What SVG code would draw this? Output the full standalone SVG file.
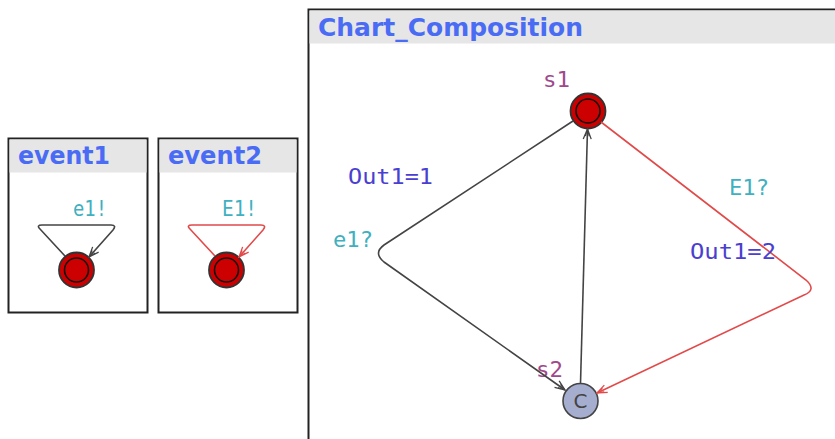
<svg xmlns="http://www.w3.org/2000/svg" width="835" height="439" viewBox="0 0 835 439">
<style>
.box{fill:#fff;stroke:#222;stroke-width:2}
.hdr{fill:#e6e6e6}
.title{font-family:"DejaVu Sans",sans-serif;font-weight:bold;font-size:24px;fill:#4a6cf5}
.lbl{font-family:"DejaVu Sans Mono",monospace;font-size:21px}
.sync{fill:#3fb0bf}
.asg{fill:#4a3fd0}
.name{fill:#a0488c}
.e{fill:none;stroke:#444;stroke-width:1.6}
.r{fill:none;stroke:#e24a4a;stroke-width:1.6}
.st{fill:#cc0000;stroke:#333;stroke-width:1.8}
.in{fill:none;stroke:#111;stroke-width:1.6}
.cst{fill:#a6aed0;stroke:#444;stroke-width:1.6}
</style>
<defs>
<marker id="ak" viewBox="0 0 12 10" refX="11" refY="5" markerWidth="12" markerHeight="10" markerUnits="userSpaceOnUse" orient="auto">
<path d="M1,1 L11,5 L1,9 M4,3 L11,5 L4,7" fill="none" stroke="#444" stroke-width="1.3"/>
</marker>
<marker id="ar" viewBox="0 0 12 10" refX="11" refY="5" markerWidth="12" markerHeight="10" markerUnits="userSpaceOnUse" orient="auto">
<path d="M1,1 L11,5 L1,9 M4,3 L11,5 L4,7" fill="none" stroke="#e24a4a" stroke-width="1.3"/>
</marker>
</defs>
<rect width="835" height="439" fill="#fff"/>

<g id="event1">
<rect class="box" x="8.5" y="138.5" width="139" height="174"/>
<rect class="hdr" x="9.5" y="139.5" width="137" height="33"/>
<text class="title" x="18" y="164" textLength="92" lengthAdjust="spacingAndGlyphs">event1</text>
<circle class="st" cx="76.5" cy="270" r="17.5"/>
<circle class="in" cx="76.5" cy="270" r="12"/>
</g>
<g id="event2">
<rect class="box" x="158.5" y="138.5" width="139" height="174"/>
<rect class="hdr" x="159.5" y="139.5" width="137" height="33"/>
<text class="title" x="168" y="164" textLength="94" lengthAdjust="spacingAndGlyphs">event2</text>
<circle class="st" cx="226.5" cy="270" r="17.5"/>
<circle class="in" cx="226.5" cy="270" r="12"/>
</g>
<g id="Chart_Composition">
<rect class="box" x="308.5" y="9.5" width="600" height="500"/>
<rect class="hdr" x="309.5" y="10.5" width="598" height="33"/>
<text class="title" x="318" y="36" textLength="265" lengthAdjust="spacingAndGlyphs">Chart_Composition</text>
</g>
<g id="s1">
<circle class="st" cx="588" cy="111" r="17.5"/>
<circle class="in" cx="588" cy="111" r="12"/>
<text class="lbl name" x="543" y="87" textLength="27" lengthAdjust="spacingAndGlyphs">s1</text>
</g>
<g id="s2">
<circle class="cst" cx="580.5" cy="401" r="17.5"/>
<text x="580.5" y="408" text-anchor="middle" fill="#444" font-family="DejaVu Sans, sans-serif" font-size="20">C</text>
<text class="lbl name" x="536" y="377" textLength="27" lengthAdjust="spacingAndGlyphs">s2</text>
</g>

<g id="connectors">
<path class="e" d="M65,256 L40,229 Q36,225 42,225 L111,225 Q117,225 113,230 L89,257" marker-end="url(#ak)"/>
<text class="lbl sync" x="73" y="216" textLength="34" lengthAdjust="spacingAndGlyphs">e1!</text>
<path class="r" d="M215,256 L190,229 Q186,225 192,225 L261,225 Q267,225 263,230 L239,257" marker-end="url(#ar)"/>
<text class="lbl sync" x="222" y="216" textLength="35" lengthAdjust="spacingAndGlyphs">E1!</text>

<path class="e" d="M573,121 L384,245 Q373,253 384,262 L565,390" marker-end="url(#ak)"/>
<text class="lbl asg" x="348" y="184" textLength="85" lengthAdjust="spacingAndGlyphs">Out1=1</text>
<text class="lbl sync" x="333" y="247" textLength="40" lengthAdjust="spacingAndGlyphs">e1?</text>

<path class="e" d="M580.5,383.5 L587.5,129" marker-end="url(#ak)"/>

<path class="r" d="M601,122 L806,280 Q817,290 804,295 L597,393" marker-end="url(#ar)"/>
<text class="lbl sync" x="729" y="195" textLength="40" lengthAdjust="spacingAndGlyphs">E1?</text>
<text class="lbl asg" x="690" y="259" textLength="86" lengthAdjust="spacingAndGlyphs">Out1=2</text>
</g>
</svg>
